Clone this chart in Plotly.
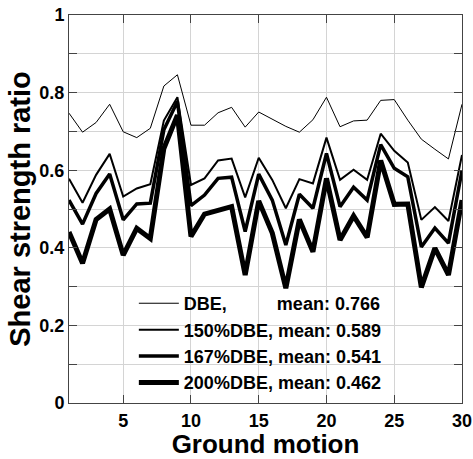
import plotly.graph_objects as go

ground_motion = list(range(1, 31))
dbe = [0.747, 0.698, 0.723, 0.770, 0.699, 0.684, 0.708, 0.817, 0.846, 0.716,
       0.716, 0.748, 0.762, 0.711, 0.750, 0.732, 0.713, 0.698, 0.730, 0.788,
       0.712, 0.727, 0.729, 0.780, 0.782, 0.729, 0.680, 0.654, 0.629, 0.770]
dbe150 = [0.578, 0.516, 0.588, 0.642, 0.532, 0.553, 0.564, 0.728, 0.788, 0.562,
          0.579, 0.625, 0.630, 0.530, 0.632, 0.575, 0.502, 0.577, 0.566, 0.684,
          0.575, 0.601, 0.575, 0.694, 0.650, 0.620, 0.472, 0.505, 0.469, 0.639]
dbe167 = [0.523, 0.461, 0.540, 0.590, 0.472, 0.513, 0.515, 0.704, 0.777, 0.509,
          0.536, 0.579, 0.582, 0.442, 0.590, 0.523, 0.407, 0.538, 0.502, 0.643,
          0.506, 0.556, 0.523, 0.666, 0.605, 0.583, 0.402, 0.451, 0.412, 0.599]
dbe200 = [0.441, 0.360, 0.473, 0.500, 0.381, 0.450, 0.424, 0.656, 0.742, 0.429,
          0.487, 0.497, 0.506, 0.330, 0.521, 0.438, 0.296, 0.473, 0.390, 0.579,
          0.420, 0.482, 0.427, 0.625, 0.512, 0.513, 0.298, 0.399, 0.330, 0.523]
y_ticks = [0, 0.2, 0.4, 0.6, 0.8, 1]
y_tick_labels = ["0", "0.2", "0.4", "0.6", "0.8", "1"]
x_ticks = [5, 10, 15, 20, 25, 30]

nb = "\u00a0"
names = ["DBE," + nb * 10 + "mean: 0.766",
         "150%DBE, mean: 0.589",
         "167%DBE, mean: 0.541",
         "200%DBE, mean: 0.462"]
series = [dbe, dbe150, dbe167, dbe200]
widths = [1, 2, 3.5, 5]

FONT = "Arial, Liberation Sans"

fig = go.Figure()
for nm, ys, w in zip(names, series, widths):
    fig.add_trace(go.Scatter(x=ground_motion, y=ys, mode="lines", name=nm,
                             line=dict(color="black", width=w)))

axis_common = dict(showline=True, linecolor="#444", linewidth=1, mirror="ticks",
                   ticks="inside", ticklen=8, tickcolor="#444", automargin=False,
                   showgrid=True, gridcolor="#d4d4d4", gridwidth=1, zeroline=False,
                   tickfont=dict(family=FONT, size=18, color="black", weight="bold"))

fig.update_layout(
    width=473, height=459,
    margin=dict(l=69, r=11, t=15, b=56),
    paper_bgcolor="white", plot_bgcolor="white",
    font=dict(family=FONT, color="black"),
    xaxis=dict(range=[1, 30], tickvals=x_ticks, ticklabelstandoff=1,
               title=dict(text="Ground motion", standoff=9,
                          font=dict(size=26, weight="bold", family=FONT)),
               **axis_common),
    yaxis=dict(range=[0, 1], tickvals=y_ticks, ticktext=y_tick_labels,
               minor=dict(dtick=0.1, ticks="inside", ticklen=8, tickcolor="#444",
                          showgrid=True, gridcolor="#d4d4d4"),
               title=dict(text="Shear strength ratio", standoff=0,
                          font=dict(size=29, weight="bold", family=FONT)),
               **axis_common),
    legend=dict(x=0.165, y=0.304, xanchor="left", yanchor="top",
                bgcolor="rgba(0,0,0,0)", borderwidth=0,
                font=dict(size=18, weight="bold", family=FONT),
                tracegroupgap=0, itemwidth=40),
)

fig.write_html("out.html", config={"displayModeBar": False},
               post_script="document.body.style.margin='0';")
